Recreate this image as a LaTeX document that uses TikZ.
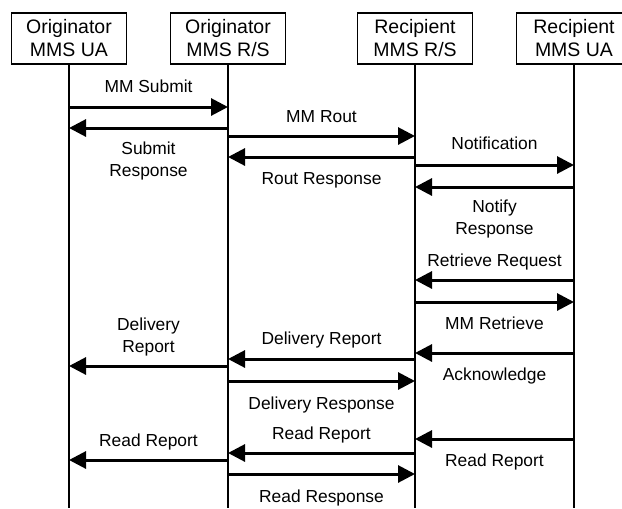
\documentclass[tikz,border=0pt]{standalone}
\usepackage{fontspec}
\setmainfont{Liberation Sans}
\usetikzlibrary{arrows.meta}
\tikzset{
    actor/.style={
        rectangle, draw=black, line width=1.6pt,
        minimum width=115pt, minimum height=51pt, inner sep=0pt,
        align=center, font=\fontsize{19.5}{23}\selectfont,
    },
    life/.style={line width=1.4pt, draw=black},
    msg/.style={
        -{Triangle[length=17pt, width=17pt]}, line width=3pt, draw=black
    },
    lab/.style={font=\fontsize{17.4}{21.5}\selectfont, align=center,
        inner sep=0pt, anchor=base},
}
\begin{document}
\begin{tikzpicture}[x=1pt, y=-1pt]
\useasboundingbox (0,0) rectangle (622,509);

% participants
\node[actor] (oua) at (69,38.5)  {Originator\\MMS UA};
\node[actor] (ors) at (228,38.5) {Originator\\MMS R/S};
\node[actor] (rrs) at (415,38.5) {Recipient\\MMS R/S};
\node[actor] (rua) at (574,38.5) {Recipient\\MMS UA};

% lifelines
\coordinate (oua-end) at (69,508);
\coordinate (ors-end) at (228,508);
\coordinate (rrs-end) at (415,508);
\coordinate (rua-end) at (574,508);
\draw[life] (oua) -- (oua-end);
\draw[life] (ors) -- (ors-end);
\draw[life] (rrs) -- (rrs-end);
\draw[life] (rua) -- (rua-end);

% submission
\draw[msg] (oua |- 0,107) -- (ors |- 0,107);
\node[lab] (lsub) at (148.5,92) {MM Submit};
\draw[msg] (ors |- 0,128) -- (oua |- 0,128);
\node[lab] (lsubr) at (148.5,176) {Submit\\Response};

% routing
\draw[msg] (ors |- 0,136) -- (rrs |- 0,136);
\node[lab] (lrout) at (321.5,122) {MM Rout};
\draw[msg] (rrs |- 0,157) -- (ors |- 0,157);
\node[lab] (lroutr) at (321.5,184) {Rout Response};

% notification
\draw[msg] (rrs |- 0,165) -- (rua |- 0,165);
\node[lab] (lnot) at (494.5,149) {Notification};
\draw[msg] (rua |- 0,187) -- (rrs |- 0,187);
\node[lab] (lnotr) at (494.5,234) {Notify\\Response};

% retrieval
\draw[msg] (rua |- 0,280) -- (rrs |- 0,280);
\node[lab] (lret) at (494.5,266) {Retrieve Request};
\draw[msg] (rrs |- 0,302) -- (rua |- 0,302);
\node[lab] (lmmret) at (494.5,329) {MM Retrieve};
\draw[msg] (rua |- 0,353) -- (rrs |- 0,353);
\node[lab] (lack) at (494.5,380) {Acknowledge};

% delivery report
\draw[msg] (rrs |- 0,359) -- (ors |- 0,359);
\node[lab] (ldelm) at (321.5,344) {Delivery Report};
\draw[msg] (ors |- 0,366) -- (oua |- 0,366);
\node[lab] (ldell) at (148.5,352) {Delivery\\Report};
\draw[msg] (ors |- 0,381) -- (rrs |- 0,381);
\node[lab] (ldelr) at (321.5,409) {Delivery Response};

% read report
\draw[msg] (rua |- 0,439) -- (rrs |- 0,439);
\node[lab] (lreadr) at (494.5,466) {Read Report};
\draw[msg] (rrs |- 0,453) -- (ors |- 0,453);
\node[lab] (lreadm) at (321.5,439) {Read Report};
\draw[msg] (ors |- 0,460) -- (oua |- 0,460);
\node[lab] (lreadl) at (148.5,446) {Read Report};
\draw[msg] (ors |- 0,474) -- (rrs |- 0,474);
\node[lab] (lreadresp) at (321.5,502) {Read Response};

\end{tikzpicture}
\end{document}
